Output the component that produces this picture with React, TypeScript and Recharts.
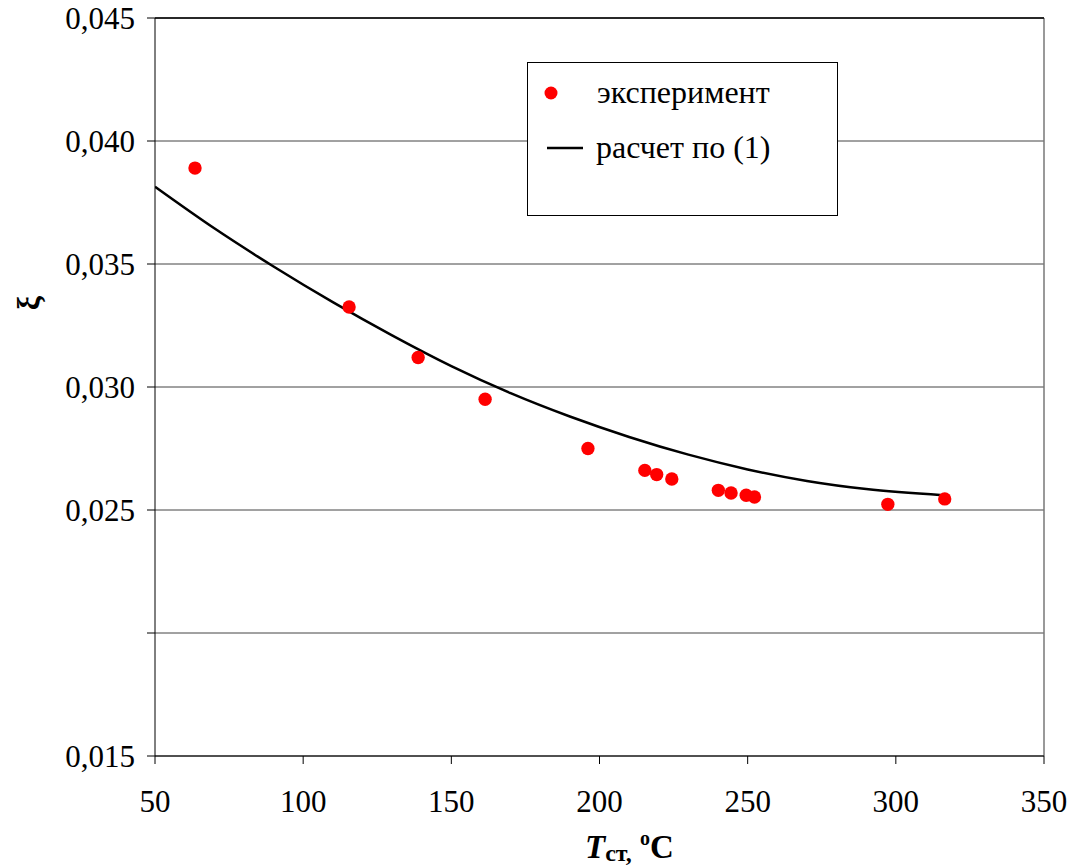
import {
  ComposedChart,
  Scatter,
  Line,
  XAxis,
  YAxis,
  ZAxis,
  CartesianGrid,
  ReferenceLine,
  Legend,
} from "recharts";

// experimental points (T, xi)
const expT = [63.5, 115.5, 138.8, 161.4, 196.1, 215.3, 219.3, 224.4, 240.1, 244.4, 249.5, 252.3, 297.3, 316.5];
const expXi = [0.0389, 0.03325, 0.0312, 0.0295, 0.0275, 0.02661, 0.02644, 0.02626, 0.0258, 0.02569, 0.0256, 0.02553, 0.02523, 0.02545];

// calculated curve
const calcT = [50, 70, 90, 110, 130, 150, 170, 190, 210, 230, 250, 270, 290, 316];
const calcXi = [0.03814, 0.03645, 0.0349, 0.03345, 0.0321, 0.03085, 0.02975, 0.0288, 0.02797, 0.02725, 0.02665, 0.02618, 0.02585, 0.0256];

const xTicks = [50, 100, 150, 200, 250, 300, 350];
const yTicks = [0.015, 0.02, 0.025, 0.03, 0.035, 0.04, 0.045];

const expData = expT.map((t, i) => ({ t, xi: expXi[i] }));
const calcData = calcT.map((t, i) => ({ t, xi: calcXi[i] }));

const FONT = "Liberation Serif";

const fmtY = (v: number) =>
  Math.abs(v - 0.02) < 1e-9 ? "" : v.toFixed(3).replace(".", ",");

const LegendBox = () => (
  <div
    style={{
      width: 311,
      height: 154,
      boxSizing: "border-box",
      border: "1px solid #000",
      background: "#fff",
      position: "relative",
    }}
  >
    <svg width={311} height={154} style={{ position: "absolute", left: -1, top: -1 }}>
      <circle cx={24} cy={31} r={6.5} fill="#ff0000" />
      <text x={70} y={41} fontFamily={FONT} fontSize={32} fill="#000">
        эксперимент
      </text>
      <line x1={20} y1={86} x2={56} y2={86} stroke="#000" strokeWidth={2.5} />
      <text x={69} y={96} fontFamily={FONT} fontSize={32} fill="#000">
        расчет по (1)
      </text>
    </svg>
  </div>
);

const App = () => {
  return (
    <div style={{ position: "absolute", left: 0, top: 0, background: "#fff" }}>
      <ComposedChart
        width={1074}
        height={867}
        margin={{ top: 18, right: 30, left: 5, bottom: 31 }}
      >
        <CartesianGrid horizontal vertical={false} stroke="#444" strokeWidth={1} />
        <XAxis
          type="number"
          dataKey="t"
          domain={[50, 350]}
          ticks={xTicks}
          allowDataOverflow
          height={80}
          stroke="#000"
          tickSize={8}
          tickMargin={26}
          tick={{ fontFamily: FONT, fontSize: 31, fill: "#000" }}
          label={{
            content: () => (
              <text x={585} y={858} fontFamily={FONT} fontWeight="bold" fontSize={33} fill="#000">
                <tspan fontStyle="italic">T</tspan>
                <tspan fontSize={24} dy={3}>ст,</tspan>
                <tspan dy={-3}> </tspan>
                <tspan fontSize={20} dy={-13}>o</tspan>
                <tspan dy={13}>C</tspan>
              </text>
            ),
          }}
        />
        <YAxis
          type="number"
          dataKey="xi"
          domain={[0.015, 0.045]}
          ticks={yTicks}
          allowDataOverflow
          width={150}
          stroke="#000"
          tickSize={8}
          tickMargin={12}
          tickFormatter={fmtY}
          tick={{ fontFamily: FONT, fontSize: 31, fill: "#000" }}
          label={{
            content: () => (
              <text
                x={28}
                y={303}
                transform="rotate(-90 28 303)"
                textAnchor="middle"
                dominantBaseline="central"
                fontFamily={FONT}
                fontWeight="bold"
                fontSize={32}
                fill="#000"
              >
                ξ
              </text>
            ),
          }}
        />
        <ZAxis range={[140, 140]} />
        <ReferenceLine x={350} stroke="#777" strokeWidth={1.5} />
        <ReferenceLine y={0.045} stroke="#000" strokeWidth={1.5} />
        <Line
          data={calcData}
          dataKey="xi"
          type="monotone"
          stroke="#000"
          strokeWidth={2.5}
          dot={false}
          activeDot={false}
          isAnimationActive={false}
          legendType="line"
          name="расчет по (1)"
        />
        <Scatter
          data={expData}
          dataKey="xi"
          fill="#ff0000"
          isAnimationActive={false}
          name="эксперимент"
        />
        <Legend
          layout="vertical"
          align="center"
          verticalAlign="middle"
          content={() => <LegendBox />}
          wrapperStyle={{ left: 527, top: 62, width: 311, height: 154, bottom: "auto", right: "auto" }}
        />
      </ComposedChart>
    </div>
  );
};

export default App;
